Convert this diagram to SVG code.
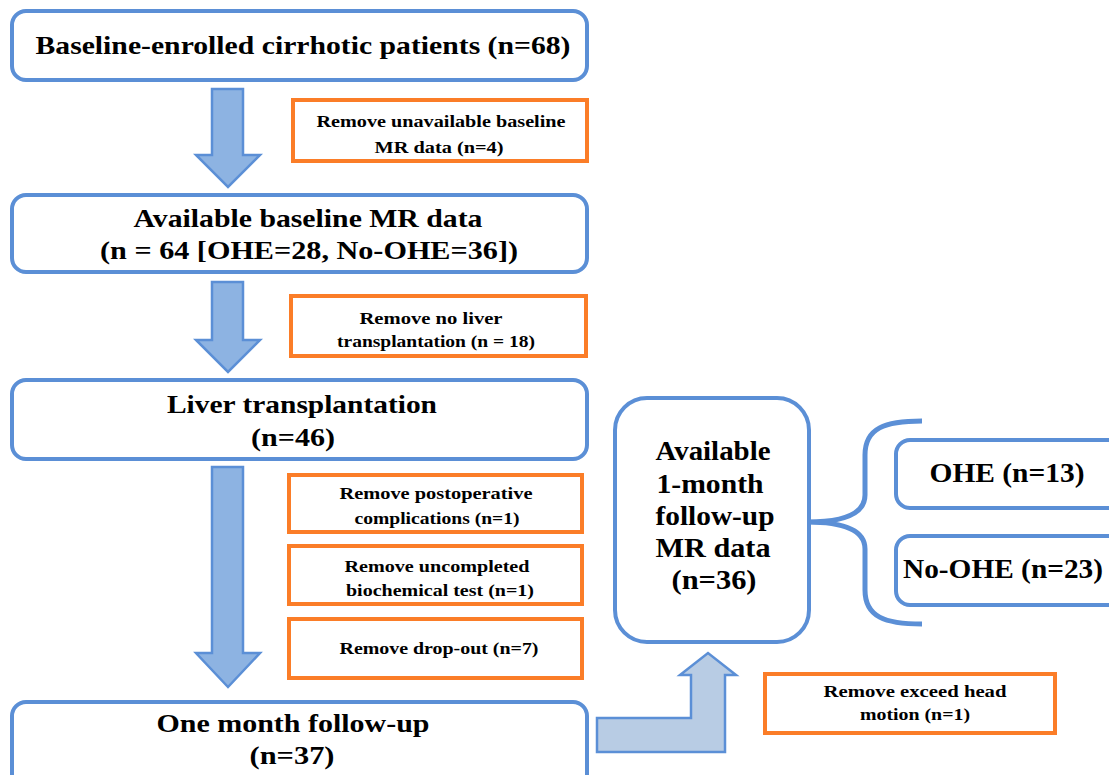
<svg xmlns="http://www.w3.org/2000/svg" width="1109" height="775" viewBox="0 0 1109 775">
<style>
.box{fill:#fff;stroke:#5b8fd6;stroke-width:4}
.ob{fill:#fff;stroke:#fb7d28;stroke-width:4}
.arr{fill:#8db3e2;stroke:#5b8fd6;stroke-width:2.5;stroke-linejoin:miter}
.arr2{fill:#b8cce4;stroke:#5b8fd6;stroke-width:2.5}
.brace{fill:none;stroke:#5b8fd6;stroke-width:5}
text{font-family:'Liberation Serif','DejaVu Serif','Times New Roman',serif;font-weight:bold;fill:#000;text-anchor:middle}
.big{font-size:26px}
.sm{font-size:17px}
.rt{font-size:27px}
</style>
<rect width="1109" height="775" fill="#fff"/>
<g id="connectors">
<polygon class="arr" points="212,89 243,89 243,155 260,155 228,187 196,155 212,155"/>
<polygon class="arr" points="212,282 243,282 243,340 260,340 228,372 196,340 212,340"/>
<polygon class="arr" points="212,467 243,467 243,653 260,653 228,687 196,653 212,653"/>
<polygon class="arr2" points="597,718 691,718 691,675 680,675 708,653 736,675 725,675 725,752 597,752"/>
<path class="brace" d="M922,421 C885,421 865,428 865,455 L865,495 C865,515 840,522 807,522 C840,522 865,529 865,549 L865,590 C865,617 885,624 922,624"/>
</g>
<g id="n1"><rect class="box" x="12" y="11" width="575" height="69" rx="14"/>
<text class="big" x="303" y="54" textLength="535" lengthAdjust="spacingAndGlyphs">Baseline-enrolled cirrhotic patients (n=68)</text></g>
<g id="r1"><rect class="ob" x="293" y="100" width="294" height="61"/>
<text class="sm" x="441" y="127" textLength="249" lengthAdjust="spacingAndGlyphs">Remove unavailable baseline</text>
<text class="sm" x="439" y="153" textLength="129" lengthAdjust="spacingAndGlyphs">MR data (n=4)</text></g>
<g id="n2"><rect class="box" x="12" y="195" width="575" height="77" rx="14"/>
<text class="big" x="308" y="227" textLength="349" lengthAdjust="spacingAndGlyphs">Available baseline MR data</text>
<text class="big" x="309" y="259" textLength="418" lengthAdjust="spacingAndGlyphs">(n = 64 [OHE=28, No-OHE=36])</text></g>
<g id="r2"><rect class="ob" x="291" y="296" width="295" height="60"/>
<text class="sm" x="431" y="324" textLength="143" lengthAdjust="spacingAndGlyphs">Remove no liver</text>
<text class="sm" x="436" y="347" textLength="198" lengthAdjust="spacingAndGlyphs">transplantation (n = 18)</text></g>
<g id="n3"><rect class="box" x="12" y="380" width="575" height="79" rx="14"/>
<text class="big" x="302" y="413" textLength="270" lengthAdjust="spacingAndGlyphs">Liver transplantation</text>
<text class="big" x="293" y="446" textLength="84" lengthAdjust="spacingAndGlyphs">(n=46)</text></g>
<g id="r3"><rect class="ob" x="289" y="475" width="293" height="57"/>
<text class="sm" x="436" y="499" textLength="193" lengthAdjust="spacingAndGlyphs">Remove postoperative</text>
<text class="sm" x="437" y="524" textLength="165" lengthAdjust="spacingAndGlyphs">complications (n=1)</text></g>
<g id="r4"><rect class="ob" x="289" y="546" width="293" height="58"/>
<text class="sm" x="437" y="572" textLength="185" lengthAdjust="spacingAndGlyphs">Remove uncompleted</text>
<text class="sm" x="440" y="596" textLength="188" lengthAdjust="spacingAndGlyphs">biochemical test (n=1)</text></g>
<g id="r5"><rect class="ob" x="289" y="619" width="293" height="59"/>
<text class="sm" x="439" y="654" textLength="199" lengthAdjust="spacingAndGlyphs">Remove drop-out (n=7)</text></g>
<g id="n4"><rect class="box" x="12" y="702" width="575" height="95" rx="14"/>
<text class="big" x="293" y="732" textLength="273" lengthAdjust="spacingAndGlyphs">One month follow-up</text>
<text class="big" x="292" y="764" textLength="85" lengthAdjust="spacingAndGlyphs">(n=37)</text></g>
<g id="n5"><rect class="box" x="615" y="398" width="194" height="244" rx="32"/>
<text class="rt" x="713" y="460" textLength="115" lengthAdjust="spacingAndGlyphs">Available</text>
<text class="rt" x="710" y="493" textLength="107" lengthAdjust="spacingAndGlyphs">1-month</text>
<text class="rt" x="715" y="525" textLength="119" lengthAdjust="spacingAndGlyphs">follow-up</text>
<text class="rt" x="713" y="557" textLength="115" lengthAdjust="spacingAndGlyphs">MR data</text>
<text class="rt" x="714" y="589" textLength="85" lengthAdjust="spacingAndGlyphs">(n=36)</text></g>
<g id="r6"><rect class="ob" x="765" y="674" width="290" height="59"/>
<text class="sm" x="915" y="697" textLength="183" lengthAdjust="spacingAndGlyphs">Remove exceed head</text>
<text class="sm" x="915" y="720" textLength="110" lengthAdjust="spacingAndGlyphs">motion (n=1)</text></g>
<g id="n6"><rect class="box" x="896" y="440" width="230" height="68" rx="14"/>
<text class="rt" x="1007" y="482" textLength="155" lengthAdjust="spacingAndGlyphs">OHE (n=13)</text></g>
<g id="n7"><rect class="box" x="896" y="536" width="230" height="69" rx="14"/>
<text class="rt" x="1003" y="578" textLength="200" lengthAdjust="spacingAndGlyphs">No-OHE (n=23)</text></g>
</svg>
